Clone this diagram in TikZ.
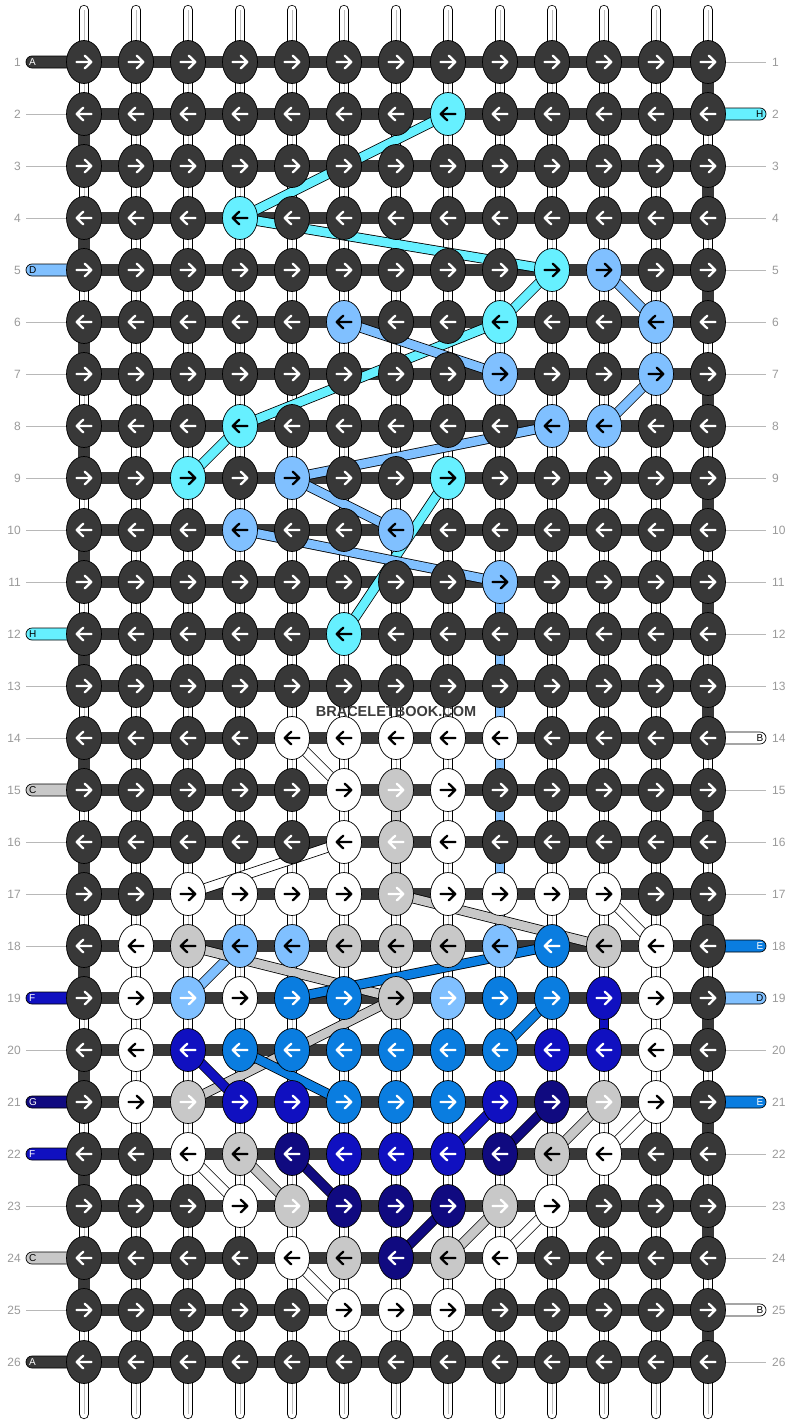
\documentclass[tikz,border=0pt]{standalone}
\usepackage{fontspec}
\setmainfont{Liberation Sans}
\usepackage{xstring}
\usetikzlibrary{shapes.geometric}
\definecolor{kc-d}{HTML}{383838}
\definecolor{kc-c}{HTML}{66F0FF}
\definecolor{kc-l}{HTML}{80C0FF}
\definecolor{kc-L}{HTML}{80C0FF}
\definecolor{kc-e}{HTML}{0A7DE0}
\definecolor{kc-f}{HTML}{1010C0}
\definecolor{kc-g}{HTML}{100A80}
\definecolor{kc-s}{HTML}{C8C8C8}
\definecolor{kc-S}{HTML}{C8C8C8}
\definecolor{kc-w}{HTML}{FFFFFF}
\colorlet{ac-d}{white}
\colorlet{ac-c}{black}
\colorlet{ac-l}{black}
\colorlet{ac-L}{white}
\colorlet{ac-w}{black}
\colorlet{ac-s}{black}
\colorlet{ac-S}{white}
\colorlet{ac-e}{white}
\colorlet{ac-f}{white}
\colorlet{ac-g}{white}
\definecolor{numgray}{HTML}{9A9A9A}
\definecolor{tickgray}{HTML}{B8B8B8}
\definecolor{warpgray}{HTML}{BDBDBD}
\definecolor{wmark}{HTML}{3C3C3C}
% left tag: row, fill, letter colour, letter
\newcommand\lefttag[4]{%
  \draw[tagbox, fill=#2] (26,{10+52*#1-6}) [rounded corners=6pt] rectangle (84,{10+52*#1+6});
  \node[tagtext, anchor=west, text=#3] (tl-#1) at (29,{10+52*#1}) {#4};
}
\newcommand\righttag[4]{%
  \draw[tagbox, fill=#2] (708,{10+52*#1-6}) [rounded corners=6pt] rectangle (766,{10+52*#1+6});
  \node[tagtext, anchor=east, text=#3] (tr-#1) at (763.5,{10+52*#1}) {#4};
}
\begin{document}
\begin{tikzpicture}[x=1pt,y=-1pt,
  warp/.style={draw=black, line width=0.8pt, double=white, double distance=8.6pt, line cap=round},
  warpmid/.style={draw=warpgray, line width=0.9pt},
  bar/.style={draw=kc-d, line width=12pt},
  strand/.style={draw=black, line width=0.8pt, double=#1, double distance=8.6pt},
  knotbox/.style={ellipse, draw=black, line width=0.7pt, minimum width=35pt, minimum height=43pt, inner sep=0pt},
  arrowline/.style={line width=2.3pt, line cap=round, line join=round},
  tagbox/.style={draw=black, line width=0.7pt},
  tagtext/.style={font=\fontsize{10}{10}\selectfont, inner sep=0pt},
  rownum/.style={font=\fontsize{12}{12}\selectfont, text=numgray, inner sep=0pt},
  tick/.style={draw=tickgray, line width=0.9pt}
]
\useasboundingbox[fill=white] (0,0) rectangle (792,1424);

% grid coordinates
\foreach \r in {1,...,26}{
  \foreach \c in {1,...,13}{
    \coordinate (p-\c-\r) at ({32+52*\c},{10+52*\r});
  }
}

% vertical warp strings
\foreach \c in {1,...,13}{
  \coordinate (wt-\c) at ({32+52*\c},10);
  \coordinate (wb-\c) at ({32+52*\c},1414);
  \draw[warp] (wt-\c) -- (wb-\c);
  \draw[warpmid] (wt-\c) -- (wb-\c);
}

% coloured vertical warp segments
\draw[strand=kc-l] (p-9-11) -- (p-9-18);
\draw[strand=kc-s] (p-7-15) -- (p-7-17);
\draw[strand=kc-f] (p-11-19) -- (p-11-20);

% row bars and turning segments
\foreach \r in {1,...,26}{
  \draw[bar] (p-1-\r) -- (p-13-\r);
}
\foreach \r in {1,3,...,25}{
  \pgfmathtruncatemacro\rn{\r+1}
  \draw[bar] (p-13-\r) -- (p-13-\rn);
}
\foreach \r in {2,4,...,24}{
  \pgfmathtruncatemacro\rn{\r+1}
  \draw[bar] (p-1-\r) -- (p-1-\rn);
}

% row numbers and ticks
\foreach \r in {1,...,26}{
  \node[rownum, anchor=east] (nl-\r) at (21,{10+52*\r}) {\r};
  \node[rownum, anchor=west] (nr-\r) at (772,{10+52*\r}) {\r};
}
\foreach \r in {2,3,4,6,7,8,9,10,11,13,14,16,17,18,20,23,25}{
  \draw[tick] (26,{10+52*\r}) -- (66,{10+52*\r});
}
\foreach \r in {1,3,4,5,6,7,8,9,10,11,12,13,15,16,17,20,22,23,24,26}{
  \draw[tick] (726,{10+52*\r}) -- (766,{10+52*\r});
}

% edge tags
\lefttag{1}{kc-d}{white}{A}
\lefttag{5}{kc-l}{black}{D}
\lefttag{12}{kc-c}{black}{H}
\lefttag{15}{kc-s}{black}{C}
\lefttag{19}{kc-f}{white}{F}
\lefttag{21}{kc-g}{white}{G}
\lefttag{22}{kc-f}{white}{F}
\lefttag{24}{kc-s}{black}{C}
\lefttag{26}{kc-d}{white}{A}
\righttag{2}{kc-c}{black}{H}
\righttag{14}{kc-w}{black}{B}
\righttag{18}{kc-e}{white}{E}
\righttag{19}{kc-l}{black}{D}
\righttag{21}{kc-e}{white}{E}
\righttag{25}{kc-w}{black}{B}

% coloured strands
\foreach \a/\b in {8-2/4-4, 4-4/10-5, 10-5/9-6, 9-6/4-8, 4-8/3-9, 8-9/6-12}{
  \draw[strand=kc-c] (p-\a) -- (p-\b);
}
\foreach \a/\b in {11-5/12-6, 6-6/9-7, 12-7/11-8, 10-8/5-9, 5-9/7-10, 4-10/9-11, 4-18/3-19}{
  \draw[strand=kc-l] (p-\a) -- (p-\b);
}
\foreach \a/\b in {5-14/6-15, 6-16/3-17, 11-17/12-18, 12-21/11-22, 3-22/4-23, 10-23/9-24, 5-24/6-25}{
  \draw[strand=kc-w] (p-\a) -- (p-\b);
}
\foreach \a/\b in {7-17/11-18, 3-18/7-19, 7-19/3-21, 11-21/10-22, 4-22/5-23, 9-23/8-24}{
  \draw[strand=kc-s] (p-\a) -- (p-\b);
}
\foreach \a/\b in {10-18/5-19, 10-19/9-20, 4-20/6-21}{
  \draw[strand=kc-e] (p-\a) -- (p-\b);
}
\foreach \a/\b in {3-20/4-21, 9-21/8-22}{
  \draw[strand=kc-f] (p-\a) -- (p-\b);
}
\foreach \a/\b in {10-21/9-22, 5-22/6-23, 8-23/7-24}{
  \draw[strand=kc-g] (p-\a) -- (p-\b);
}

% knots
\foreach \r/\s in {
  1/ddddddddddddd, 2/dddddddcddddd, 3/ddddddddddddd, 4/dddcddddddddd,
  5/dddddddddcldd, 6/dddddlddcddld, 7/ddddddddlddld, 8/dddcdddddlldd,
  9/ddcdlddcddddd, 10/dddlddldddddd, 11/ddddddddldddd, 12/dddddcddddddd,
  13/ddddddddddddd, 14/ddddwwwwwdddd, 15/dddddwSwddddd, 16/dddddwSwddddd,
  17/ddwwwwSwwwwdd, 18/dwsllsssleswd, 19/dwLweesLeefwd, 20/dwfeeeeeeffwd,
  21/dwSffeeefgSwd, 22/ddwsgfffgswdd, 23/dddwSgggSwddd, 24/ddddwsgswdddd,
  25/dddddwwwddddd, 26/ddddddddddddd}{
  \ifodd\r\def\kd{1}\else\def\kd{-1}\fi
  \pgfmathsetmacro\ky{10+52*\r}
  \foreach \c in {1,...,13}{
    \StrChar{\s}{\c}[\ch]
    \pgfmathsetmacro\kx{32+52*\c}
    \node[knotbox, fill=kc-\ch] (k-\c-\r) at (p-\c-\r) {};
    \draw[arrowline, draw=ac-\ch] ({\kx-7.5*\kd},\ky) -- ({\kx+7.3*\kd},\ky)
      ({\kx+0.8*\kd},{\ky-6.3}) -- ({\kx+7.3*\kd},\ky) -- ({\kx+0.8*\kd},{\ky+6.3});
  }
}

% watermark
\node[font=\fontsize{14.5}{14.5}\bfseries\selectfont, text=wmark, inner sep=0pt] (wm) at (396,711) {BRACELETBOOK.COM};
\end{tikzpicture}
\end{document}
